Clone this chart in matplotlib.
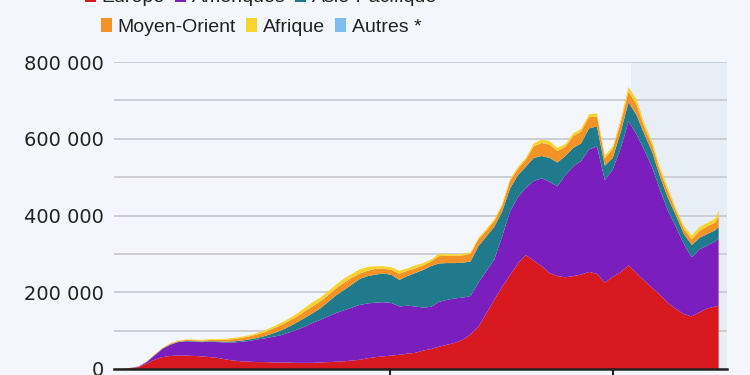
import numpy as np
import matplotlib.pyplot as plt
from matplotlib.patches import Patch
from matplotlib.ticker import FuncFormatter, MultipleLocator

# jours depuis le debut de la serie, cas quotidiens (en milliers) par region
jours = list(range(0, 381, 5)) + [382]

europe = [0, 0.4, 2, 5, 14, 24, 31, 34, 35, 35,
          34, 33, 31, 29, 25, 22, 20, 19, 18, 18,
          17, 17, 17, 16, 16, 16, 17, 18, 19, 20,
          22, 24, 28, 31, 33, 35, 37, 40, 42, 48,
          52, 58, 63, 68, 76, 90, 110, 145, 180, 214,
          245, 275, 297, 282, 268, 250, 242, 239, 242, 246,
          253, 248, 225, 240, 252, 270, 250, 230, 211, 193,
          172, 156, 143, 137, 148, 158, 163, 165]

ameriques = [0, 0.1, 0.5, 1, 4, 11, 21, 29, 35, 37,
             37, 37, 40, 41, 44, 47, 51, 54, 59, 62,
             67, 71, 78, 86, 94, 104, 111, 119, 127, 133,
             138, 143, 143, 142, 141, 137, 126, 125, 121, 112,
             110, 117, 117, 116, 110, 100, 115, 110, 105, 131,
             165, 173, 175, 208, 229, 238, 234, 266, 286, 296,
             319, 332, 267, 280, 323, 375, 362, 340, 314, 272,
             240, 214, 183, 154, 164, 164, 170, 175]

asie_pacifique = [0, 0.1, 0.5, 0.5, 0.5, 1, 1, 1, 1, 1,
                  1.5, 1.5, 1.5, 2, 2, 3, 3, 4, 4, 6,
                  9, 12, 15, 19, 23, 25, 30, 38, 46, 53,
                  60, 68, 71, 73, 75, 73, 69, 77, 87, 98,
                  106, 100, 96, 92, 91, 90, 95, 90, 85, 65,
                  60, 57, 55, 60, 58, 62, 62, 50, 48, 46,
                  55, 52, 38, 30, 42, 50, 50, 42, 40, 35,
                  33, 30, 26, 32, 30, 30, 29, 30]

moyen_orient = [0, 0, 0.1, 0.3, 0.5, 1, 1.5, 2, 2, 2.5,
                2.5, 2.5, 3, 3.5, 5, 6, 7, 8, 9, 10,
                12, 14, 15, 15, 17, 18, 18, 18, 18, 19,
                18, 14, 14, 15, 13, 13, 16, 14, 12, 12,
                12, 19, 19, 19, 19, 20, 18, 15, 15, 15,
                20, 17, 18, 30, 34, 35, 30, 24, 31, 31,
                29, 26, 19, 23, 24, 28, 28, 18, 18, 15,
                17, 12, 13, 15, 18, 20, 20, 30]

afrique = [0, 0, 0.1, 0.2, 0.5, 0.5, 0.5, 1, 1, 1.5,
           2, 2, 2.5, 2, 2.5, 3, 3, 3, 4, 5,
           5, 6, 6, 8, 9, 11, 10, 10, 10, 11,
           10, 11, 10, 7, 6, 7, 8, 6, 8, 6,
           5, 6, 5, 4, 4, 4, 4, 5, 5, 5,
           5, 5, 5, 8, 9, 9, 8, 7, 7, 7,
           8, 8, 7, 7, 9, 12, 13, 10, 9, 10,
           9, 7, 8, 10, 10, 9, 10, 14]

regions = ['Europe', 'Amériques', 'Asie-Pacifique', 'Moyen-Orient', 'Afrique', 'Autres *']
couleurs = ['#d7191f', '#7a1fbe', '#1f7a8c', '#f39325', '#f7d42c', '#7fbcf0']

fond = '#f3f6fa'
texte = '#222222'

fig = plt.figure(figsize=(7.5, 3.75), dpi=100, facecolor=fond)
ax = fig.add_axes([114 / 750, 6 / 375, 613 / 750, 307 / 375])
ax.set_facecolor(fond)
ax.set_axisbelow(True)

# zone grisee a droite
ax.axvspan(326.6, 387.3, color='#e8eef6', lw=0, zorder=0)

series = [np.array(s) * 1000 for s in (europe, ameriques, asie_pacifique, moyen_orient, afrique)]
ax.stackplot(jours, *series, colors=couleurs[:5], lw=0, zorder=2)

ax.set_xlim(-0.6, 387.3)
ax.set_ylim(0, 800000)
ax.yaxis.set_major_locator(MultipleLocator(200000))
ax.yaxis.set_minor_locator(MultipleLocator(100000))
ax.yaxis.set_major_formatter(FuncFormatter(lambda v, p: f"{v:,.0f}".replace(',', ' ')))
ax.grid(axis='y', which='both', color='#c8ccd3', lw=1.3)

for s in ('left', 'right', 'top'):
    ax.spines[s].set_visible(False)
ax.spines['bottom'].set_color(texte)
ax.spines['bottom'].set_linewidth(1.8)
ax.spines['bottom'].set_zorder(3)

ax.tick_params(axis='y', which='both', length=0, pad=7, labelsize=14, labelcolor=texte)
ax.set_xticks([174, 315])
ax.set_xticklabels([])
ax.tick_params(axis='x', length=5, width=1.5, color=texte)

poignees = [Patch(facecolor=c, edgecolor='none') for c in couleurs]
police = dict(family=['Liberation Sans', 'DejaVu Sans'], size=14)
opts = dict(loc='center', ncol=3, frameon=False, prop=police, handlelength=0.58,
            handleheight=0.74, handletextpad=0.3, columnspacing=0.5,
            borderpad=0, borderaxespad=0, labelcolor=texte)
fig.legend(poignees[:3], regions[:3], bbox_to_anchor=(261 / 750, 1 + 3 / 375), **opts)
fig.legend(poignees[3:], regions[3:], bbox_to_anchor=(261 / 750, 1 - 27 / 375), **opts)

fig.savefig('out.png', dpi=100, facecolor=fond)
